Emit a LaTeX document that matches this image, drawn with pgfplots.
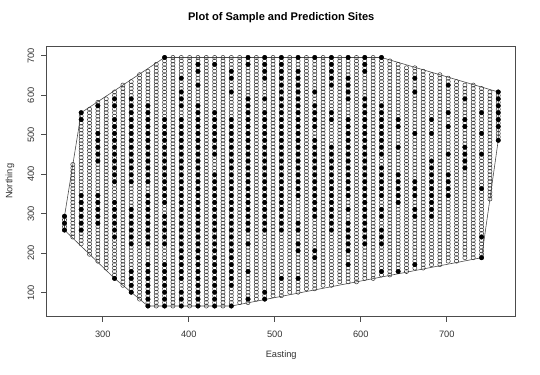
\documentclass[border=0pt]{standalone}
\usepackage{fontspec}
\setmainfont{Liberation Sans}
\usepackage{pgfplots}
\usepackage{pgfplotstable}
\pgfplotsset{compat=1.18}
\pgfplotsset{
  pred/.style={only marks, mark=o, mark size=2.1bp, mark options={line width=0.5bp, draw=black!80}},
  samp/.style={only marks, mark=*, mark size=2.3bp, mark options={fill=black, draw=black, line width=0.2bp}},
}
\pgfplotstableread{
y
66
74.75
83.5
92.25
101
109.75
118.5
127.25
136
144.75
153.5
162.25
171
179.75
188.5
197.25
206
214.75
223.5
232.25
241
249.75
258.5
267.25
276
284.75
293.5
302.25
311
319.75
328.5
337.25
346
354.75
363.5
372.25
381
389.75
398.5
407.25
416
424.75
433.5
442.25
451
459.75
468.5
477.25
486
494.75
503.5
512.25
521
529.75
538.5
547.25
556
564.75
573.5
582.25
591
599.75
608.5
617.25
626
634.75
643.5
652.25
661
669.75
678.5
687.25
696
}\predrows
\newcommand{\pcol}[3]{\addplot[pred,restrict y to domain=#2:#3] table[x expr=#1,y=y]{\predrows};}
\newcommand{\scol}[2]{\addplot[samp] table[x expr=#1,y index=0,header=false,row sep=\\]{#2};}
\begin{document}
\begin{tikzpicture}
\useasboundingbox (0,0) rectangle (540bp,375bp);
\begin{axis}[
  at={(46.7bp,59bp)}, anchor=south west,
  scale only axis, width=469bp, height=269.3bp,
  xmin=234.8, xmax=780.2, ymin=40.7, ymax=723.3,
  xtick={300,400,500,600,700}, ytick={100,200,300,400,500,600,700},
  tick align=outside, xtick pos=lower, ytick pos=left,
  major tick length=5.7bp,
  axis line style={black!70,line width=0.8bp},
  tick style={black!70,line width=0.8bp},
  ticklabel style={font=\fontsize{9.3}{11}\selectfont, text=black!80},
  /pgf/number format/assume math mode=true,
  xticklabel style={anchor=center, yshift=-12.3bp},
  yticklabel style={xshift=-10bp, rotate=90, anchor=center},
  title={Plot of Sample and Prediction Sites},
  title style={font=\fontsize{11.1}{13}\selectfont\bfseries, at={(axis description cs:0.5,1)}, anchor=center, yshift=22.7bp},
  xlabel={Easting}, ylabel={Northing},
  xlabel style={at={(axis description cs:0.5,-0.1448)}, anchor=center, font=\fontsize{9.3}{11}\selectfont, text=black!80},
  ylabel style={at={(axis description cs:-0.0783,0.5)}, anchor=center, font=\fontsize{9.3}{11}\selectfont, text=black!80},
]
% prediction grid columns: x, lower y, upper y
\pcol{255.5}{257.5}{294.5}
\pcol{265.2}{240}{425.75}
\pcol{274.9}{222.5}{557}
\pcol{284.6}{196.25}{565.75}
\pcol{294.3}{178.75}{583.25}
\pcol{304.0}{161.25}{592}
\pcol{313.7}{135}{609.5}
\pcol{323.4}{117.5}{627}
\pcol{333.1}{100}{635.75}
\pcol{342.8}{82.5}{653.25}
\pcol{352.5}{65}{662}
\pcol{362.2}{65}{679.5}
\pcol{371.9}{65}{697}
\pcol{381.6}{65}{697}
\pcol{391.3}{65}{697}
\pcol{401.0}{65}{697}
\pcol{410.7}{65}{697}
\pcol{420.4}{65}{697}
\pcol{430.1}{65}{697}
\pcol{439.8}{65}{697}
\pcol{449.5}{65}{697}
\pcol{459.2}{73.75}{697}
\pcol{468.9}{73.75}{697}
\pcol{478.6}{82.5}{697}
\pcol{488.3}{82.5}{697}
\pcol{498.0}{91.25}{697}
\pcol{507.7}{91.25}{697}
\pcol{517.4}{100}{697}
\pcol{527.1}{100}{697}
\pcol{536.8}{108.75}{697}
\pcol{546.5}{108.75}{697}
\pcol{556.2}{117.5}{697}
\pcol{565.9}{117.5}{697}
\pcol{575.6}{126.25}{697}
\pcol{585.3}{126.25}{697}
\pcol{595.0}{126.25}{697}
\pcol{604.7}{135}{697}
\pcol{614.4}{135}{697}
\pcol{624.1}{143.75}{697}
\pcol{633.8}{143.75}{688.25}
\pcol{643.5}{152.5}{679.5}
\pcol{653.2}{152.5}{670.75}
\pcol{662.9}{161.25}{670.75}
\pcol{672.6}{161.25}{662}
\pcol{682.3}{170}{653.25}
\pcol{692.0}{170}{653.25}
\pcol{701.7}{178.75}{644.5}
\pcol{711.4}{178.75}{635.75}
\pcol{721.1}{187.5}{627}
\pcol{730.8}{187.5}{627}
\pcol{740.5}{187.5}{618.25}
\pcol{750.2}{336.25}{609.5}
\pcol{759.9}{485}{609.5}
% sample sites
\scol{255.5}{258.5\\276\\293.5\\}
\scol{274.9}{258.5\\276\\293.5\\311\\328.5\\346\\538.5\\556\\}
\scol{294.3}{276\\293.5\\311\\328.5\\346\\433.5\\451\\468.5\\486\\503.5\\573.5\\}
\scol{313.7}{136\\241\\258.5\\276\\293.5\\311\\328.5\\381\\398.5\\416\\433.5\\451\\468.5\\486\\503.5\\521\\538.5\\573.5\\591\\}
\scol{333.1}{101\\118.5\\136\\153.5\\223.5\\241\\258.5\\276\\293.5\\311\\381\\398.5\\416\\433.5\\451\\468.5\\486\\503.5\\521\\538.5\\556\\573.5\\591\\}
\scol{352.5}{66\\83.5\\101\\118.5\\136\\153.5\\171\\223.5\\241\\258.5\\276\\293.5\\311\\328.5\\346\\381\\398.5\\416\\433.5\\451\\468.5\\486\\503.5\\521\\538.5\\556\\573.5\\}
\scol{371.9}{66\\83.5\\101\\118.5\\136\\153.5\\171\\223.5\\241\\258.5\\276\\293.5\\328.5\\346\\363.5\\381\\398.5\\416\\433.5\\451\\468.5\\486\\503.5\\521\\538.5\\696\\}
\scol{391.3}{66\\83.5\\101\\136\\153.5\\171\\188.5\\206\\223.5\\241\\258.5\\276\\293.5\\311\\328.5\\346\\363.5\\381\\398.5\\416\\433.5\\451\\468.5\\486\\503.5\\521\\538.5\\573.5\\591\\608.5\\643.5\\}
\scol{410.7}{66\\83.5\\101\\118.5\\136\\153.5\\171\\188.5\\206\\223.5\\241\\258.5\\276\\293.5\\311\\328.5\\346\\363.5\\381\\398.5\\416\\433.5\\451\\468.5\\486\\503.5\\521\\538.5\\556\\573.5\\626\\661\\678.5\\}
\scol{430.1}{66\\83.5\\101\\118.5\\136\\153.5\\171\\188.5\\206\\223.5\\241\\258.5\\276\\293.5\\311\\328.5\\346\\363.5\\381\\398.5\\451\\468.5\\486\\503.5\\521\\538.5\\556\\678.5\\}
\scol{449.5}{66\\118.5\\136\\153.5\\171\\188.5\\206\\223.5\\241\\258.5\\276\\293.5\\311\\328.5\\346\\363.5\\381\\398.5\\416\\433.5\\451\\468.5\\486\\503.5\\521\\538.5\\608.5\\643.5\\661\\}
\scol{468.9}{83.5\\153.5\\223.5\\258.5\\276\\293.5\\311\\328.5\\346\\363.5\\381\\398.5\\416\\433.5\\451\\468.5\\486\\503.5\\521\\538.5\\556\\573.5\\591\\678.5\\696\\}
\scol{488.3}{83.5\\101\\258.5\\276\\293.5\\311\\328.5\\346\\363.5\\381\\398.5\\416\\433.5\\451\\468.5\\486\\503.5\\521\\538.5\\556\\591\\643.5\\661\\678.5\\696\\}
\scol{507.7}{136\\258.5\\276\\293.5\\311\\328.5\\346\\363.5\\381\\398.5\\416\\433.5\\451\\468.5\\486\\503.5\\521\\538.5\\556\\573.5\\591\\608.5\\626\\643.5\\661\\678.5\\696\\}
\scol{527.1}{136\\206\\223.5\\258.5\\276\\346\\363.5\\381\\398.5\\416\\433.5\\451\\468.5\\486\\503.5\\521\\538.5\\556\\573.5\\591\\608.5\\626\\643.5\\661\\696\\}
\scol{546.5}{188.5\\206\\293.5\\311\\328.5\\346\\363.5\\381\\398.5\\416\\433.5\\451\\468.5\\486\\521\\538.5\\556\\573.5\\608.5\\696\\}
\scol{565.9}{258.5\\276\\293.5\\311\\328.5\\346\\363.5\\381\\398.5\\416\\433.5\\451\\468.5\\538.5\\556\\626\\643.5\\661\\678.5\\696\\}
\scol{585.3}{171\\206\\223.5\\241\\258.5\\276\\311\\346\\363.5\\381\\398.5\\416\\433.5\\451\\468.5\\486\\503.5\\521\\538.5\\591\\608.5\\626\\643.5\\696\\}
\scol{604.7}{223.5\\241\\258.5\\276\\293.5\\311\\328.5\\346\\363.5\\381\\398.5\\416\\433.5\\451\\468.5\\486\\503.5\\521\\538.5\\556\\573.5\\591\\661\\678.5\\696\\}
\scol{624.1}{153.5\\223.5\\241\\258.5\\293.5\\311\\346\\363.5\\381\\398.5\\416\\451\\468.5\\486\\503.5\\521\\538.5\\556\\573.5\\696\\}
\scol{643.5}{153.5\\328.5\\346\\363.5\\381\\398.5\\468.5\\521\\538.5\\}
\scol{662.9}{171\\293.5\\311\\346\\363.5\\381\\503.5\\608.5\\643.5\\}
\scol{682.3}{293.5\\311\\328.5\\346\\363.5\\381\\398.5\\416\\433.5\\503.5\\538.5\\}
\scol{701.7}{346\\363.5\\381\\398.5\\451\\521\\556\\626\\}
\scol{721.1}{416\\433.5\\451\\468.5\\521\\538.5\\591\\}
\scol{740.5}{188.5\\241\\363.5\\451\\503.5\\556\\}
\scol{759.9}{486\\521\\538.5\\556\\573.5\\591\\608.5\\}
% convex hull
\addplot[black!70, line width=0.6bp] coordinates {(255.5,258.5) (255.5,293.5) (274.9,556) (371.9,696) (624.1,696) (759.9,608.5) (759.9,486) (740.5,188.5) (449.5,66) (352.5,66) (333.1,101) (313.7,136) (255.5,258.5)};
\end{axis}
\end{tikzpicture}
\end{document}
